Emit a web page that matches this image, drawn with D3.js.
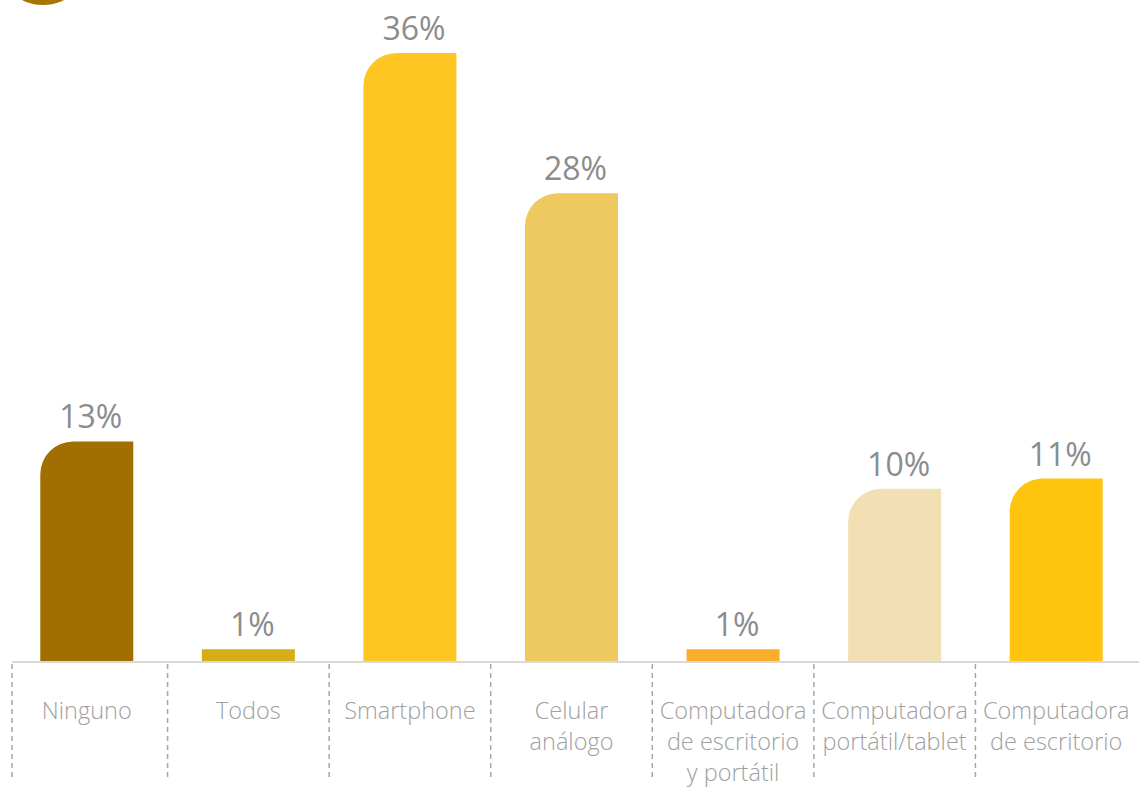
<!DOCTYPE html>
<html>
<head>
<meta charset="utf-8">
<script src="https://cdn.jsdelivr.net/npm/d3@7"></script>
<style>
  html, body { margin: 0; padding: 0; background: #ffffff; }
  svg { display: block; }
</style>
</head>
<body>
<svg id="chart" width="1139" height="788"></svg>
<script>
// ---- data ----
const categories = ["Ninguno", "Todos", "Smartphone", "Celular análogo",
  "Computadora de escritorio y portátil", "Computadora portátil/tablet", "Computadora de escritorio"];
const categoryLines = [
  ["Ninguno"], ["Todos"], ["Smartphone"], ["Celular", "análogo"],
  ["Computadora", "de escritorio", "y portátil"], ["Computadora", "portátil/tablet"],
  ["Computadora", "de escritorio"]
];
const values = [13, 0.7, 36, 27.7, 0.7, 10.2, 10.8];
const valueLabels = ["13%", "1%", "36%", "28%", "1%", "10%", "11%"];
const colors = ["#A06F00", "#D4AE14", "#FDC623", "#EDC95F", "#FBAE2B", "#F3DFB4", "#FFC40D"];

// ---- layout ----
const svg = d3.select("#chart");
const W = 1139, H = 788;
const baseY = 661;

const xBand = d3.scaleBand().domain(categories).range([6, 1137]).padding(0);
const barW = 93;
const y = d3.scaleLinear().domain([0, 36]).range([baseY, 53]);

// decorative partial circle top-left
svg.append("circle").attr("cx", 43).attr("cy", -42).attr("r", 47).attr("fill", "#A87500");

const data = categories.map((c, i) => ({ c, v: values[i], label: valueLabels[i], lines: categoryLines[i], color: colors[i] }));
const cxOf = d => xBand(d.c) + xBand.bandwidth() / 2;

function barPath(d) {
  const cx = cxOf(d);
  const x0 = cx - barW / 2, x1 = cx + barW / 2;
  const yt = y(d.v), yb = baseY;
  const h = yb - yt;
  const r = h > 40 ? 33 : 0;
  if (r === 0) return `M${x0},${yb}L${x0},${yt}L${x1},${yt}L${x1},${yb}Z`;
  return `M${x0},${yb}L${x0},${yt + r}A${r},${r} 0 0 1 ${x0 + r},${yt}L${x1},${yt}L${x1},${yb}Z`;
}

svg.append("g").selectAll("path").data(data).join("path")
  .attr("d", barPath)
  .attr("fill", d => d.color);

// value labels
svg.append("g").selectAll("text").data(data).join("text")
  .attr("x", d => cxOf(d) + 4)
  .attr("y", d => y(d.v) - 13)
  .attr("text-anchor", "middle")
  .attr("font-family", "'Open Sans', 'Noto Sans', sans-serif")
  .attr("font-size", 32)
  .attr("fill", "#8A8C8E")
  .text(d => d.label);

// baseline
svg.append("line")
  .attr("x1", 12).attr("x2", W)
  .attr("y1", baseY + 1).attr("y2", baseY + 1)
  .attr("stroke", "#D9D9D9").attr("stroke-width", 2);

// dashed separators
svg.append("g").selectAll("line").data(data).join("line")
  .attr("x1", (d, i) => i === 0 ? 12 : xBand(d.c))
  .attr("x2", (d, i) => i === 0 ? 12 : xBand(d.c))
  .attr("y1", baseY + 3).attr("y2", 779)
  .attr("stroke", "#A6A6A6").attr("stroke-width", 1.5)
  .attr("stroke-dasharray", "5,4");

// category labels
const catG = svg.append("g").selectAll("text").data(data).join("text")
  .attr("x", cxOf)
  .attr("y", 719)
  .attr("text-anchor", "middle")
  .attr("font-family", "'Open Sans', 'Noto Sans', sans-serif")
  .attr("font-weight", 300)
  .attr("font-size", 23.5)
  .attr("fill", "#A0A0A0");
catG.each(function(d) {
  const t = d3.select(this);
  const cx = cxOf(d);
  d.lines.forEach((ln, j) => {
    t.append("tspan").attr("x", cx).attr("y", 719 + j * 31).text(ln);
  });
});
</script>
</body>
</html>
